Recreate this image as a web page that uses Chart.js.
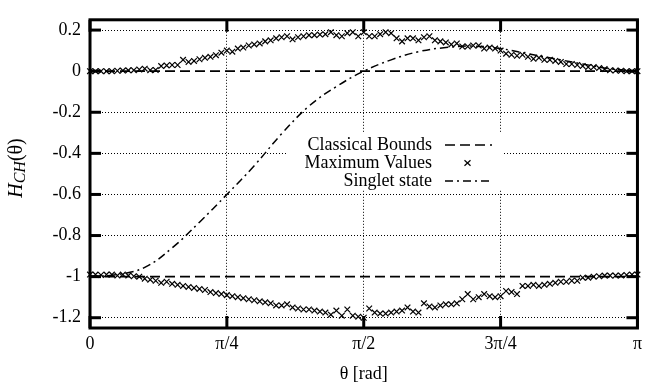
<!DOCTYPE html>
<html>
<head>
<meta charset="utf-8">
<script src="https://cdn.jsdelivr.net/npm/chart.js@4/dist/chart.umd.min.js"></script>
<style>
  html, body { margin: 0; padding: 0; background: #fff; }
  #wrap { width: 647px; height: 390px; }
</style>
</head>
<body>
<div id="wrap"><canvas id="chsh"></canvas></div>
<script>
// axis ticks
const thetaTicks = [0, Math.PI / 4, Math.PI / 2, 3 * Math.PI / 4, Math.PI];
const thetaTickLabels = ['0', 'π/4', 'π/2', '3π/4', 'π'];
const hTicks = [0.2, 0, -0.2, -0.4, -0.6, -0.8, -1, -1.2];
const hTickLabels = ['0.2', '0', '-0.2', '-0.4', '-0.6', '-0.8', '-1', '-1.2'];

// classical bounds (horizontal lines)
const classicalBounds = [0, -1];

// maximum values, sampled at theta = k*pi/100
const maxUpper = [
  0, 0, 0, 0, 0, 0.002, 0.003, 0.004, 0.005, 0.008,
  0.012, 0.005, 0.006, 0.025, 0.028, 0.03, 0.03, 0.055, 0.045, 0.05,
  0.058, 0.065, 0.07, 0.078, 0.09, 0.1, 0.095, 0.11, 0.115, 0.125,
  0.13, 0.135, 0.145, 0.15, 0.16, 0.165, 0.17, 0.155, 0.165, 0.17,
  0.175, 0.175, 0.178, 0.18, 0.19, 0.175, 0.17, 0.185, 0.19, 0.17,
  0.19, 0.17, 0.17, 0.18, 0.19, 0.185, 0.16, 0.145, 0.16, 0.16,
  0.15, 0.165, 0.17, 0.15, 0.145, 0.14, 0.13, 0.135, 0.12, 0.12,
  0.125, 0.125, 0.11, 0.115, 0.11, 0.1, 0.085, 0.08, 0.075, 0.08,
  0.07, 0.06, 0.065, 0.055, 0.055, 0.05, 0.045, 0.035, 0.035, 0.03,
  0.025, 0.02, 0.02, 0.015, 0.01, 0.005, 0.003, 0.002, 0, 0, 0
];
const maxLower = [
  -0.99, -0.99, -0.992, -0.99, -0.99, -0.995, -0.99, -0.995, -0.998, -1.0,
  -1.01, -1.015, -1.02, -1.03, -1.025, -1.035, -1.04, -1.045, -1.05, -1.055,
  -1.06, -1.065, -1.075, -1.08, -1.085, -1.09, -1.095, -1.1, -1.105, -1.11,
  -1.115, -1.12, -1.125, -1.13, -1.14, -1.14, -1.135, -1.15, -1.155, -1.16,
  -1.16, -1.165, -1.17, -1.175, -1.185, -1.165, -1.19, -1.16, -1.19, -1.195,
  -1.2, -1.155, -1.175, -1.18, -1.18, -1.175, -1.17, -1.165, -1.15, -1.17,
  -1.175, -1.13, -1.145, -1.15, -1.14, -1.135, -1.135, -1.13, -1.11, -1.085,
  -1.11, -1.1, -1.085, -1.095, -1.1, -1.095, -1.07, -1.075, -1.085, -1.045,
  -1.045, -1.04, -1.045, -1.04, -1.035, -1.03, -1.025, -1.025, -1.02, -1.02,
  -1.005, -1.005, -1.0, -0.998, -0.995, -0.995, -0.995, -0.995, -0.992, -0.99, -0.99
];

// singlet state curve, sampled at theta = k*pi/20
const singlet = [
  -1.0, -0.99, -0.955, -0.86, -0.735, -0.60, -0.46, -0.305, -0.17, -0.075,
  0.0, 0.055, 0.095, 0.115, 0.122, 0.11, 0.085, 0.06, 0.035, 0.012, 0.0
];

const legendItems = ['Classical Bounds', 'Maximum Values', 'Singlet state'];

const FONT = "'Liberation Serif', 'Times New Roman', serif";

function sampled(values) {
  const n = values.length - 1;
  return values.map((v, i) => ({ x: i * Math.PI / n, y: v }));
}

const boundSets = classicalBounds.map(b => ({
  type: 'line',
  data: [{ x: 0, y: b }, { x: Math.PI, y: b }],
  borderColor: '#000',
  borderWidth: 1.6,
  borderDash: [10, 5],
  pointRadius: 0,
  fill: false
}));

const markerSet = vals => ({
  type: 'scatter',
  data: sampled(vals),
  pointStyle: 'crossRot',
  pointRadius: 4,
  borderColor: '#000',
  borderWidth: 1.2,
  clip: false
});

// grid is dotted black, but left out under the classical bound lines
const gridColor = c => (c.tick && classicalBounds.includes(c.tick.value)) ? 'rgba(0,0,0,0)' : '#000';

// frame with inward ticks, legend box and y title
const framePlugin = {
  id: 'frame',
  afterDraw(chart) {
    const { ctx, chartArea: a, scales: { x, y } } = chart;
    ctx.save();
    ctx.strokeStyle = '#000';
    ctx.lineWidth = 3;
    ctx.setLineDash([]);
    const seg = (x1, y1, x2, y2) => { ctx.beginPath(); ctx.moveTo(x1, y1); ctx.lineTo(x2, y2); ctx.stroke(); };
    hTicks.forEach(v => {
      const py = y.getPixelForValue(v);
      seg(a.left, py, a.left + 11, py);
      seg(a.right - 11, py, a.right, py);
    });
    thetaTicks.forEach(v => {
      const px = x.getPixelForValue(v);
      seg(px, a.bottom, px, a.bottom - 12);
      seg(px, a.top, px, a.top + 12);
    });
    ctx.strokeRect(a.left, a.top, a.right - a.left, a.bottom - a.top);

    // legend (opaque)
    ctx.fillStyle = '#fff';
    ctx.fillRect(287, 133, 215, 57);
    ctx.fillStyle = '#000';
    ctx.font = '18px ' + FONT;
    ctx.textAlign = 'right';
    ctx.textBaseline = 'middle';
    const rows = [145, 163, 181];
    legendItems.forEach((t, i) => ctx.fillText(t, 432, rows[i]));
    ctx.lineWidth = 1.6;
    ctx.setLineDash([10, 5]);
    seg(445, rows[0], 492, rows[0]);
    ctx.setLineDash([]);
    ctx.lineWidth = 1.2;
    seg(464.5, rows[1] - 2.8, 470.5, rows[1] + 2.8);
    seg(464.5, rows[1] + 2.8, 470.5, rows[1] - 2.8);
    ctx.lineWidth = 1.5;
    ctx.setLineDash([8, 4, 2, 4]);
    seg(445, rows[2], 490, rows[2]);
    ctx.setLineDash([]);

    // y axis title: H_CH(θ)
    ctx.translate(22, 168);
    ctx.rotate(-Math.PI / 2);
    ctx.textAlign = 'left';
    ctx.textBaseline = 'alphabetic';
    const big = 'italic 20px ' + FONT, small = 'italic 16px ' + FONT, plain = '20px ' + FONT;
    ctx.font = big; const wH = ctx.measureText('H').width;
    ctx.font = small; const wS = ctx.measureText('CH').width;
    ctx.font = plain; const wP = ctx.measureText('(θ)').width;
    let cx = -(wH + wS + wP) / 2;
    ctx.font = big; ctx.fillText('H', cx, 0); cx += wH;
    ctx.font = small; ctx.fillText('CH', cx, 3); cx += wS;
    ctx.font = plain; ctx.fillText('(θ)', cx, 0);
    ctx.restore();
  }
};

new Chart(document.getElementById('chsh'), {
  data: {
    datasets: [
      ...boundSets,
      markerSet(maxUpper),
      markerSet(maxLower),
      {
        type: 'line',
        data: sampled(singlet),
        borderColor: '#000',
        borderWidth: 1.5,
        borderDash: [8, 4, 2, 4],
        tension: 0.4,
        pointRadius: 0,
        fill: false
      }
    ]
  },
  options: {
    responsive: true,
    maintainAspectRatio: false,
    animation: false,
    layout: { padding: { top: 3, right: 4, left: 0, bottom: 0 } },
    plugins: { legend: { display: false }, tooltip: { enabled: false } },
    scales: {
      x: {
        type: 'linear',
        min: 0,
        max: Math.PI,
        afterBuildTicks: s => { s.ticks = thetaTicks.map(v => ({ value: v })); },
        afterFit: s => { s.height = 62; },
        ticks: {
          callback: (v, i) => thetaTickLabels[i],
          color: '#000',
          padding: 5,
          maxRotation: 0,
          font: { family: FONT, size: 18 }
        },
        grid: { color: '#000', lineWidth: 1, drawTicks: false },
        border: { display: false, dash: [1, 2] },
        title: {
          display: true,
          text: 'θ [rad]',
          color: '#000',
          font: { family: FONT, size: 18 },
          padding: { top: 0, bottom: 5 }
        }
      },
      y: {
        type: 'linear',
        min: -1.25,
        max: 0.25,
        afterBuildTicks: s => { s.ticks = hTicks.map(v => ({ value: v })); },
        afterFit: s => { s.width = 90; },
        ticks: {
          callback: (v, i) => hTickLabels[i],
          color: '#000',
          padding: 9,
          font: { family: FONT, size: 18 }
        },
        grid: { color: gridColor, lineWidth: 1, drawTicks: false },
        border: { display: false, dash: [1, 2] }
      }
    }
  },
  plugins: [framePlugin]
});
</script>
</body>
</html>
